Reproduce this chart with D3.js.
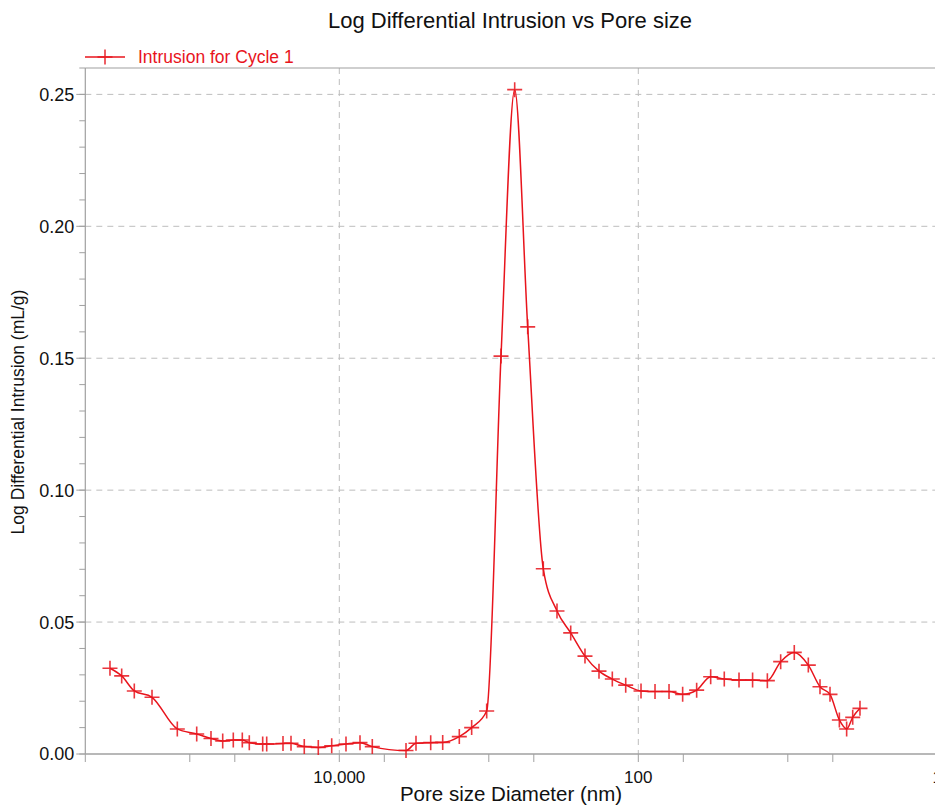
<!DOCTYPE html>
<html>
<head>
<meta charset="utf-8">
<script src="https://cdn.jsdelivr.net/npm/d3@7"></script>
<style>
  html, body { margin: 0; padding: 0; background: #fff; }
  svg { display: block; font-family: "Liberation Sans", Arial, sans-serif; }
</style>
</head>
<body>
<svg id="chart" width="935" height="806"></svg>
<script>
// ---- Data (pore size diameter in nm, log differential intrusion in mL/g) ----
const poreSize = [
  341900, 285500, 235100, 178950, 121200, 89900, 72150, 60240, 51170, 44540,
  39990, 32540, 30590, 23800, 21040, 17150, 13820, 11240, 9020, 7270,
  6016, 3579, 3069, 2447, 2034, 1575, 1302, 1033, 828.6, 671.2,
  549.3, 432.0, 349.8, 283.2, 227.3, 183.2, 149.2, 121.4, 95.9, 77.3,
  62.3, 50.5, 40.7, 32.8, 26.6, 21.2, 17.2, 13.7, 11.16, 9.05,
  7.29, 6.09, 5.22, 4.52, 4.04, 3.68, 3.29
];
const intrusion = [
  0.0325, 0.0296, 0.0239, 0.0215, 0.0095, 0.0076, 0.0059, 0.0049, 0.0053, 0.0053,
  0.0043, 0.0038, 0.0038, 0.0040, 0.0041, 0.0028, 0.0025, 0.0031, 0.0038, 0.0043,
  0.0028, 0.0013, 0.0041, 0.0043, 0.0044, 0.0066, 0.0100, 0.0163, 0.1508, 0.2518,
  0.1619, 0.0702, 0.0542, 0.0459, 0.0371, 0.0314, 0.0284, 0.0261, 0.0239, 0.0237,
  0.0237, 0.0226, 0.0242, 0.0293, 0.0284, 0.0280, 0.0280, 0.0278, 0.0350, 0.0385,
  0.0337, 0.0255, 0.0226, 0.0129, 0.0095, 0.0139, 0.0173
];
const xTickValues = [100000, 50000, 10000, 5000, 1000, 500, 100, 50, 10, 5, 1];
const xLabelValues = [10000, 100, 1];
const xGridValues = [10000, 100];
const yMajorTicks = [0, 0.05, 0.10, 0.15, 0.20, 0.25];
const yMinorTicks = d3.range(0, 0.261, 0.01);
const titleText = "Log Differential Intrusion vs Pore size";
const xAxisTitle = "Pore size Diameter (nm)";
const yAxisTitle = "Log Differential Intrusion (mL/g)";
const seriesName = "Intrusion for Cycle 1";

const data = poreSize.map((d, i) => ({ x: d, y: intrusion[i] }));

// ---- Layout ----
const svg = d3.select("#chart");
const pLeft = 85.3, pRight = 937.3, pTop = 68, pBottom = 754;
const red = "#e8141c";
const gridColor = "#bdbdbd";
const axisColor = "#a0a0a0";

const x = d3.scaleLog().domain([500000, 1]).range([pLeft, pRight]);
const y = d3.scaleLinear().domain([0, 0.26]).range([pBottom, pTop]);

// Grid
svg.append("g").selectAll("line").data(yMajorTicks.filter(d => d > 0)).join("line")
  .attr("x1", pLeft).attr("x2", 935).attr("y1", d => y(d)).attr("y2", d => y(d))
  .attr("stroke", gridColor).attr("stroke-dasharray", "6,5").attr("stroke-width", 1);
svg.append("g").selectAll("line").data(xGridValues).join("line")
  .attr("x1", d => x(d)).attr("x2", d => x(d)).attr("y1", pTop).attr("y2", pBottom)
  .attr("stroke", gridColor).attr("stroke-dasharray", "6,5").attr("stroke-width", 1);

// Frame lines
svg.append("line").attr("x1", pLeft).attr("x2", 935).attr("y1", pTop).attr("y2", pTop)
  .attr("stroke", axisColor).attr("stroke-width", 1.2);
svg.append("line").attr("x1", pLeft).attr("x2", pLeft).attr("y1", pTop).attr("y2", pBottom)
  .attr("stroke", axisColor).attr("stroke-width", 1.2);

// Y axis ticks
svg.append("g").selectAll("line").data(yMinorTicks).join("line")
  .attr("x1", pLeft - 6).attr("x2", pLeft).attr("y1", d => y(d)).attr("y2", d => y(d))
  .attr("stroke", axisColor).attr("stroke-width", 1);
svg.append("g").selectAll("line").data(yMajorTicks).join("line")
  .attr("x1", pLeft - 9).attr("x2", pLeft).attr("y1", d => y(d)).attr("y2", d => y(d))
  .attr("stroke", axisColor).attr("stroke-width", 1);
svg.append("g").selectAll("text").data(yMajorTicks).join("text")
  .attr("x", pLeft - 11).attr("y", d => y(d)).attr("dy", "0.36em")
  .attr("text-anchor", "end").attr("font-size", 18).attr("fill", "#111")
  .text(d => d3.format(".2f")(d));

// X axis line + ticks
svg.append("line").attr("x1", pLeft).attr("x2", 935).attr("y1", pBottom).attr("y2", pBottom)
  .attr("stroke", axisColor).attr("stroke-width", 1.5);
svg.append("g").selectAll("line").data(xTickValues).join("line")
  .attr("x1", d => x(d)).attr("x2", d => x(d)).attr("y1", pBottom).attr("y2", pBottom + 8)
  .attr("stroke", axisColor).attr("stroke-width", 1);
svg.append("line").attr("x1", pLeft).attr("x2", pLeft).attr("y1", pBottom).attr("y2", pBottom + 8)
  .attr("stroke", axisColor).attr("stroke-width", 1);
svg.append("g").selectAll("text").data(xLabelValues).join("text")
  .attr("x", d => x(d)).attr("y", pBottom + 29)
  .attr("text-anchor", "middle").attr("font-size", 17).attr("fill", "#111")
  .text(d => d3.format(",")(d));

// Titles
svg.append("text").attr("x", 510).attr("y", 28).attr("text-anchor", "middle")
  .attr("font-size", 22).attr("fill", "#111").text(titleText);
svg.append("text").attr("x", 511).attr("y", 801).attr("text-anchor", "middle")
  .attr("font-size", 20.5).attr("fill", "#111").text(xAxisTitle);
svg.append("text").attr("transform", "translate(24,412) rotate(-90)")
  .attr("text-anchor", "middle").attr("font-size", 17.5).attr("fill", "#111").text(yAxisTitle);

// Line
const line = d3.line().x(d => x(d.x)).y(d => y(d.y)).curve(d3.curveMonotoneX);
svg.append("path").datum(data).attr("d", line)
  .attr("fill", "none").attr("stroke", red).attr("stroke-width", 1.5);

// Markers (plus signs)
const ms = 7.5;
const markers = svg.append("g").attr("stroke", red).attr("stroke-width", 1.6).attr("opacity", 0.85);
markers.selectAll("path").data(data).join("path")
  .attr("d", d => {
    const px = x(d.x), py = y(d.y);
    return `M${px - ms},${py}H${px + ms}M${px},${py - ms}V${py + ms}`;
  });

// Legend
const lg = svg.append("g");
lg.append("line").attr("x1", 85).attr("x2", 125).attr("y1", 57).attr("y2", 57)
  .attr("stroke", red).attr("stroke-width", 1.5);
lg.append("path").attr("d", `M${105 - ms},57H${105 + ms}M105,${57 - ms}V${57 + ms}`)
  .attr("stroke", red).attr("stroke-width", 1.6).attr("opacity", 0.85);
lg.append("text").attr("x", 138).attr("y", 63).attr("font-size", 17.5).attr("fill", red)
  .text(seriesName);
</script>
</body>
</html>
